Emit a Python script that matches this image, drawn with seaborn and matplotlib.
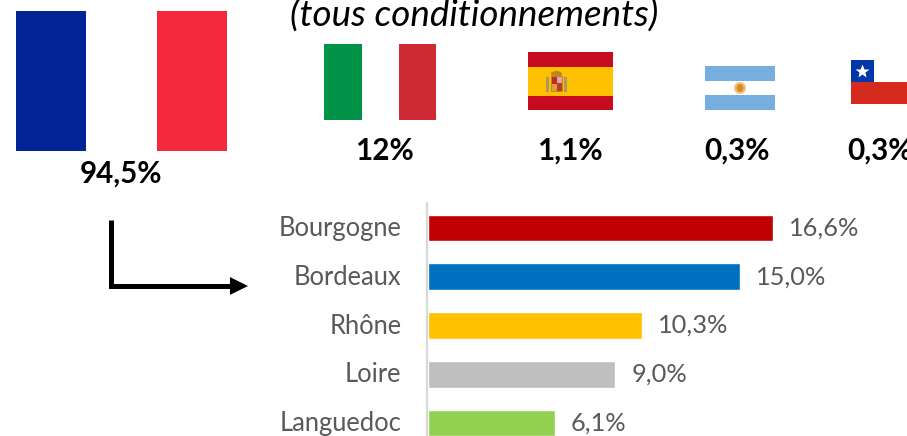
import matplotlib
matplotlib.use("Agg")
import matplotlib.pyplot as plt
from matplotlib.patches import Rectangle, Ellipse
import pandas as pd
import seaborn as sns

regions = ["Bourgogne", "Bordeaux", "Rhône", "Loire", "Languedoc"]
region_shares = [16.6, 15.0, 10.3, 9.0, 6.1]
region_colors = ["#C00000", "#0070C0", "#FFC000", "#BFBFBF", "#92D050"]

country_labels = ["94,5%", "12%", "1,1%", "0,3%", "0,3%"]
title = "(tous conditionnements)"

sns.set_theme(style="white")
plt.rcParams["font.family"] = ["Lato", "DejaVu Sans"]

W, H = 907, 436
fig = plt.figure(figsize=(W / 100, H / 100), dpi=100)

# bar chart part, left edge on the grey line
ax = fig.add_axes([428 / W, 0, 1 - 428 / W, 233 / H])
df = pd.DataFrame({"region": regions, "share": region_shares})
sns.barplot(data=df, y="region", x="share", hue="region", palette=region_colors,
            order=regions, hue_order=regions, legend=False, width=0.55, saturation=1, ax=ax)
ax.set_xlim(0, (W - 428) / 20.8)
ax.set_ylim(4.267, -0.513)
ax.set_xlabel("")
ax.set_ylabel("")
ax.set_xticks([])
ax.tick_params(axis="y", length=0, labelleft=False)
# region names placed by hand, tick labels can't be offset vertically
for i, region in enumerate(regions):
    ax.annotate(region, xy=(0, i), xytext=(-19, -0.4), textcoords="offset points",
                ha="right", va="center", fontsize=18.4, color="#595959", annotation_clip=False)
for s in ["top", "right", "bottom"]:
    ax.spines[s].set_visible(False)
ax.spines["left"].set_color("#D9D9D9")
ax.spines["left"].set_linewidth(1.6)
ax.spines["left"].set_position(("outward", 1))
for container, share in zip(ax.containers, region_shares):
    label = f"{share:.1f}%".replace(".", ",")
    ax.bar_label(container, labels=[label], padding=11.5, fontsize=18.3, color="#595959")

# overlay in pixel coords for the flags and the arrow
ov = fig.add_axes([0, 0, 1, 1], zorder=5)
ov.set_xlim(0, W)
ov.set_ylim(H, 0)
ov.axis("off")


def rect(x0, y0, x1, y1, color):
    ov.add_patch(Rectangle((x0, y0), x1 - x0, y1 - y0, fc=color, ec="none"))


# France
rect(16, 11, 86, 151, "#002395")
rect(157, 11, 227, 151, "#F32A3B")
# Italie
rect(324, 44, 362, 120, "#009246")
rect(399, 44, 436, 120, "#CE2B37")
# Espagne, blason simplifie
rect(528, 52, 613, 110, "#C60B1E")
rect(528, 67, 613, 96, "#FFC000")
rect(551, 76, 563, 92, "#C8842A")
rect(552, 77, 557, 84, "#B5301E")
rect(557, 77, 562, 83, "#E8A0B0")
rect(552, 84, 557, 91, "#D9A030")
rect(557, 83, 562, 91, "#B5401E")
ov.add_patch(Ellipse((556.5, 74), 11, 6, fc="#B8862A", ec="none"))
rect(546, 77, 549, 92, "#A89A60")
rect(564, 77, 567, 92, "#A89A60")
# Argentine
rect(705, 66, 775, 81, "#78ADE0")
rect(705, 95, 775, 110, "#78ADE0")
ov.add_patch(Ellipse((740, 88), 12, 12, fc="#F0C080", ec="none"))
ov.add_patch(Ellipse((740, 88), 7, 8, fc="#D98A20", ec="none"))
# Chili
rect(851, 60, 874, 82, "#0038A8")
rect(851, 82, 907, 104, "#D52B1E")
ov.plot([862], [71], marker="*", ms=10, color="white", mec="none")

label_x = [121, 384, 570, 737, 880]
label_y = [174, 151, 151, 151, 151]
for x, y, txt in zip(label_x, label_y, country_labels):
    ov.text(x, y, txt, ha="center", va="center", fontsize=21.3, fontweight="bold", color="black")

ov.text(474, 16, title, ha="center", va="center", fontsize=26.5, fontstyle="italic", color="black")

# arrow
ov.plot([111, 111, 232], [220, 286, 286], color="black", lw=3.6, solid_joinstyle="miter", solid_capstyle="butt")
ov.annotate("", xy=(248, 286), xytext=(230, 286),
            arrowprops=dict(arrowstyle="-|>,head_length=0.65,head_width=0.32", color="black", lw=0,
                            shrinkA=0, shrinkB=0, mutation_scale=20))

fig.savefig("out.png", dpi=100)
